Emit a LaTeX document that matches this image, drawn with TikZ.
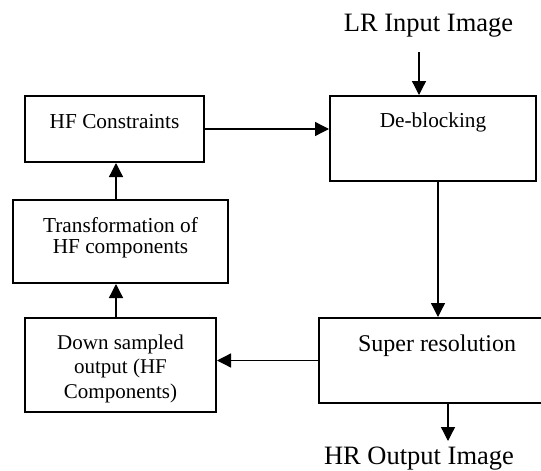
\documentclass[tikz,border=0pt]{standalone}
\usepackage{fontspec}
\setmainfont{Liberation Serif}
\usetikzlibrary{positioning, arrows.meta}
\newcommand{\boxtext}[4]{\parbox[c][#2][t]{#1}{\centering\rule{0pt}{#3}#4}}

\begin{document}
\begin{tikzpicture}
[x=1pt, y=-1pt,
block/.style={rectangle, draw=black, line width=2pt, inner sep=0pt, font=\fontsize{21.3}{21}\selectfont},
biglabel/.style={anchor=base, inner sep=0pt, font=\fontsize{26.5}{28}\selectfont},
arrow/.style={line width=1.3pt, -{Triangle[length=14pt, width=14pt]}},]
\useasboundingbox (0,0) rectangle (541,471);

\node (hfc) [block] at (114.5,129) {\boxtext{179pt}{66pt}{32pt}{HF Constraints}};
\node (deblock) [block] at (433,138.5) {\boxtext{206pt}{85pt}{31pt}{De-blocking}};
\node (transf) [block] at (120.5,241.5) {\boxtext{215pt}{83pt}{32pt}{Transformation of\\HF components}};
\node (down) [block, font=\fontsize{21}{24.5}\selectfont] at (120.5,365) {\boxtext{191pt}{94pt}{31pt}{Down sampled\\output (HF\\Components)}};
\node (super) [block, font=\fontsize{24}{26}\selectfont] at (437,360.5) {\boxtext{236pt}{85pt}{33pt}{Super resolution}};
\node (lr) [biglabel] at (428.5,31) {LR Input Image};
\node (hr) [biglabel] at (419,464) {HR Output Image};

\coordinate (lrin) at (419,52);
\coordinate (hrout) at (448,441);

\draw [arrow] (lrin) -- (lrin |- deblock.north);
\draw [arrow] (hfc.east) -- (hfc.east -| deblock.west);
\draw [arrow] ([xshift=5pt]deblock.south) -- ([xshift=5pt]deblock.south |- super.north);
\draw [arrow] (super.west) -- (super.west -| down.east);
\draw [arrow] ([xshift=-4.5pt]down.north) -- ([xshift=-4.5pt]down.north |- transf.south);
\draw [arrow] ([xshift=-4.5pt]transf.north) -- ([xshift=-4.5pt]transf.north |- hfc.south);
\draw [arrow] (super.south -| hrout) -- (hrout);

\end{tikzpicture}
\end{document}
